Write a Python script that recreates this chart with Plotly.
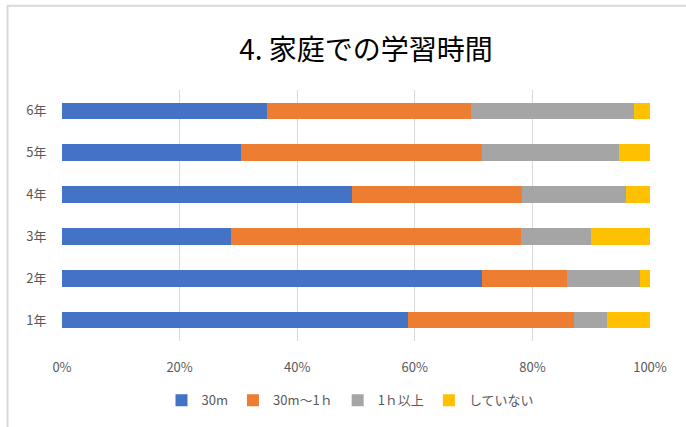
import plotly.graph_objects as go

# Home study time by grade (share of pupils, %)
grades = ["1年", "2年", "3年", "4年", "5年", "6年"]
series_names = ["30m", "30m～1ｈ", "1ｈ以上", "していない"]
min30 = [58.8, 71.5, 28.8, 49.3, 30.4, 34.8]
min30_to_1h = [28.2, 14.3, 49.2, 28.9, 41.1, 34.8]
over_1h = [5.7, 12.5, 11.9, 17.8, 23.2, 27.6]
none = [7.3, 1.7, 10.1, 4.0, 5.3, 2.8]
x_ticks = [0, 20, 40, 60, 80, 100]
x_tick_labels = ["0%", "20%", "40%", "60%", "80%", "100%"]

colors = ["#4472C4", "#ED7D31", "#A5A5A5", "#FFC000"]
values = [min30, min30_to_1h, over_1h, none]

fig = go.Figure()
for name, vals, col in zip(series_names, values, colors):
    fig.add_trace(go.Bar(
        y=grades, x=vals, name=name, orientation="h",
        marker=dict(color=col, line=dict(width=0)),
    ))

font_cjk = "Noto Sans CJK JP"
W, H = 686, 427
L, R, T, B = 62, 36, 90, 85.5
plot_w = W - L - R
plot_h = H - T - B

def px_x(p):
    return (p - L) / plot_w

def px_y(p):
    return (H - B - p) / plot_h

fig.update_layout(
    width=W, height=H,
    margin=dict(l=L, r=R, t=T, b=B, autoexpand=False),
    barmode="stack", bargap=0.6,
    plot_bgcolor="white", paper_bgcolor="white",
    title=dict(text="4. 家庭での学習時間", x=366 / W, xanchor="center",
               y=1 - 50 / H, yanchor="middle", yref="container",
               font=dict(family=font_cjk, size=28, color="#000000")),
    xaxis=dict(range=[0, 100], tickvals=x_ticks, ticktext=x_tick_labels,
               showgrid=True, gridcolor="#D9D9D9", gridwidth=1,
               zeroline=False, showline=False,
               ticks="outside", ticklen=14, tickcolor="rgba(0,0,0,0)",
               tickfont=dict(family=font_cjk, size=13, color="#595959")),
    yaxis=dict(showgrid=False, zeroline=False, showline=False,
               ticks="outside", ticklen=12, tickcolor="rgba(0,0,0,0)",
               tickfont=dict(family=font_cjk, size=13, color="#595959")),
    legend=dict(orientation="h", x=px_x(350), xanchor="center",
                y=px_y(401), yanchor="middle", traceorder="normal",
                font=dict(family=font_cjk, size=13, color="#595959"),
                itemwidth=30),
    showlegend=True,
)

# Chart frame: light border along the top and left edges
fig.add_shape(type="line", xref="paper", yref="paper",
              x0=px_x(7), x1=px_x(W + 5), y0=px_y(5.5), y1=px_y(5.5),
              line=dict(color="#D9D9D9", width=2))
fig.add_shape(type="line", xref="paper", yref="paper",
              x0=px_x(7.5), x1=px_x(7.5), y0=px_y(5.5), y1=px_y(H + 5),
              line=dict(color="#D9D9D9", width=2))

fig.write_html("out.html")
